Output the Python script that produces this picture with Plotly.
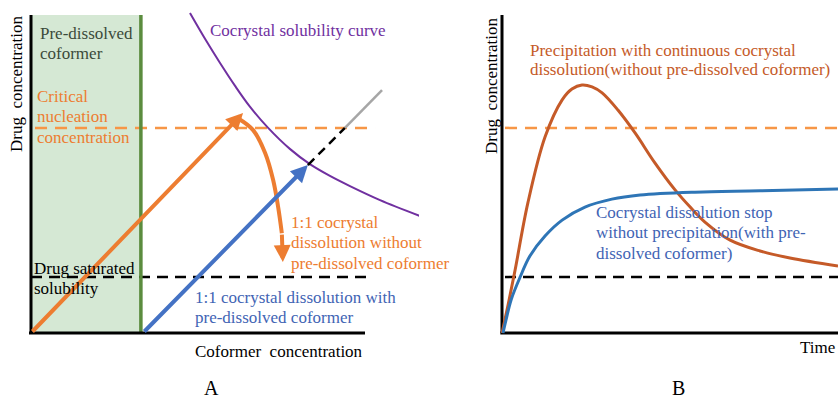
import plotly.graph_objects as go

# ---------------- data (arbitrary concentration units) ----------------
# Panel A: phase diagram, coformer concentration vs drug concentration
critical_nucleation = 6.45
drug_saturated = 1.76
predissolved_coformer = 3.29
axis_max = 10.0

solubility_x = [4.76, 5.21, 5.66, 6.11, 6.56, 7.10, 7.75, 8.35, 8.95, 9.55, 10.45, 11.65]
solubility_y = [10.06, 9.25, 8.49, 7.77, 7.11, 6.45, 5.79, 5.31, 4.94, 4.62, 4.18, 3.68]

no_coformer_x = [0.0, 6.35]
no_coformer_y = [0.0, 6.92]

precipitation_x = [6.23, 6.65, 7.01, 7.25, 7.40, 7.51, 7.54]
precipitation_y = [6.73, 6.38, 5.66, 4.81, 3.96, 3.14, 2.23]

with_coformer_x = [3.35, 8.29]
with_coformer_y = [0.0, 5.28]

extension_x = [8.29, 9.40]
extension_y = [5.28, 6.45]

beyond_x = [9.40, 10.51]
beyond_y = [6.45, 7.64]

# Panel B: drug concentration vs time
time_precip = [0.0, 0.18, 0.39, 0.77, 1.28, 1.79, 2.08, 2.38, 2.68, 2.98, 3.45, 3.96,
               4.55, 5.15, 5.60, 6.04, 6.79, 7.68, 8.57, 10.0]
conc_precip = [0.0, 0.88, 1.98, 4.09, 6.16, 7.33, 7.67, 7.80, 7.74, 7.55, 7.01, 6.29,
               5.35, 4.50, 3.96, 3.49, 2.92, 2.58, 2.36, 2.11]

time_stop = [0.03, 0.12, 0.27, 0.54, 0.83, 1.28, 1.79, 2.47, 3.27, 4.11, 5.74, 7.68, 10.0]
conc_stop = [0.0, 0.41, 1.04, 1.76, 2.42, 3.05, 3.55, 3.96, 4.21, 4.34, 4.43, 4.47, 4.53]

# ---------------- styling ----------------
W, H = 838, 403
FONT = "Liberation Serif"
FS = 17
ORANGE = "#ed7d31"
ORANGE_DASH = "#f79646"
BROWN = "#c55a28"
BLUE_A = "#4472c4"
BLUE_B = "#2e75b6"
PURPLE = "#7030a0"
GREEN = "#5b8c3e"
GREEN_FILL = "#d5e8d4"
GRAY = "#a6a6a6"
TEXT_BLUE = "#3f64b4"


def paper(px, py):
    return px / W, 1 - py / H


fig = go.Figure()


def line(x, y, color, width, axes="A", dash=None, shape="linear"):
    xa, ya = ("x", "y") if axes == "A" else ("x2", "y2")
    fig.add_trace(go.Scatter(
        x=x, y=y, mode="lines", xaxis=xa, yaxis=ya, hoverinfo="skip",
        line=dict(color=color, width=width, dash=dash, shape=shape, smoothing=1.0),
    ))


# ---- Panel A ----
fig.add_shape(type="rect", xref="x", yref="y", x0=0, x1=predissolved_coformer,
              y0=0, y1=axis_max, fillcolor=GREEN_FILL, line_width=0, layer="below")
line([0.12, 10.3], [critical_nucleation] * 2, ORANGE_DASH, 2.5, dash="12px,8px")
line([0, 10.21], [drug_saturated] * 2, "black", 2.5, dash="11px,7px")
line([predissolved_coformer] * 2, [0, axis_max], GREEN, 3.5)
line([0, 0], [0, axis_max], "black", 3)
line([-0.06, axis_max], [0, 0], "black", 3)
line(solubility_x, solubility_y, PURPLE, 2, shape="spline")
line(extension_x, extension_y, "black", 2.5, dash="9px,6px")
line(beyond_x, beyond_y, GRAY, 2.5)
line(precipitation_x[:-1], precipitation_y[:-1], ORANGE, 4, shape="spline")

# ---- Panel B ----
line([0.09, 10.0], [critical_nucleation] * 2, ORANGE_DASH, 2.5, axes="B", dash="12px,8px")
line([0.09, 10.0], [drug_saturated] * 2, "black", 2.5, axes="B", dash="11px,7px")
line([0, 0], [0, axis_max], "black", 3, axes="B")
line([-0.05, 10.0], [0, 0], "black", 3, axes="B")
line(time_precip, conc_precip, BROWN, 3, axes="B", shape="spline")
line(time_stop, conc_stop, BLUE_B, 3, axes="B", shape="spline")

annotations = []


def arrow(x0, y0, x1, y1, color):
    annotations.append(dict(
        x=x1, y=y1, ax=x0, ay=y0, xref="x", yref="y", axref="x", ayref="y",
        text="", showarrow=True, arrowhead=2, arrowsize=0.85, arrowwidth=4,
        arrowcolor=color,
    ))


arrow(no_coformer_x[0], no_coformer_y[0], no_coformer_x[1], no_coformer_y[1], ORANGE)
arrow(with_coformer_x[0], with_coformer_y[0], with_coformer_x[1], with_coformer_y[1], BLUE_A)
arrow(precipitation_x[-2], precipitation_y[-2], precipitation_x[-1], precipitation_y[-1], ORANGE)


def label(lines, px, py0, color="black", size=FS, xanchor="left", step=20, angle=0):
    """Place one annotation per text line, lines spaced `step` pixels apart."""
    for i, txt in enumerate(lines):
        x, y = paper(px, py0 + i * step)
        annotations.append(dict(
            text=txt, x=x, y=y, xref="paper", yref="paper", showarrow=False,
            xanchor=xanchor, yanchor="middle", textangle=angle,
            font=dict(family=FONT, size=size, color=color),
        ))


label(["Pre-dissolved", "coformer"], 38, 33, color="#3b4a3a")
label(["Critical", "nucleation", "concentration"], 35, 97, color=ORANGE)
label(["Cocrystal solubility curve"], 208, 30, color=PURPLE)
label(["1:1 cocrystal", "dissolution without", "pre-dissolved coformer"], 289, 222,
      color=ORANGE, step=20.5)
label(["Drug saturated", "solubility"], 32, 268)
label(["1:1 cocrystal dissolution with", "pre-dissolved coformer"], 193, 297, color=TEXT_BLUE)
label(["Coformer  concentration"], 365, 351, xanchor="right")
label(["Drug  concentration"], 17, 84, xanchor="center", angle=-90)
label(["A"], 212, 388, size=20, xanchor="center")

label(["Precipitation with continuous cocrystal",
       "dissolution(without pre-dissolved coformer)"], 528, 50, color=BROWN)
label(["Cocrystal dissolution stop", "without precipitation(with pre-",
       "dissolved coformer)"], 594, 212, color=TEXT_BLUE, step=20.5)
label(["Time"], 837, 347, xanchor="right")
label(["Drug  concentration"], 491, 86, xanchor="center", angle=-90)
label(["B"], 678, 388, size=20, xanchor="center")

# Axes map concentration units linearly onto each panel
ax_common = dict(visible=False, fixedrange=True)
fig.update_layout(
    width=W, height=H, margin=dict(l=0, r=0, t=0, b=0),
    paper_bgcolor="white", plot_bgcolor="white", showlegend=False,
    xaxis=dict(domain=[0, 419 / W], range=[-31 / 33.4, (419 - 31) / 33.4], **ax_common),
    yaxis=dict(domain=[0, 1], range=[-70 / 31.8, 333 / 31.8], **ax_common),
    xaxis2=dict(domain=[419 / W, 1], range=[(419 - 502) / 33.6, (838 - 502) / 33.6],
                anchor="y2", **ax_common),
    yaxis2=dict(domain=[0, 1], range=[-70 / 31.8, 333 / 31.8], anchor="x2", **ax_common),
    annotations=annotations,
)

fig.write_html("out.html")
